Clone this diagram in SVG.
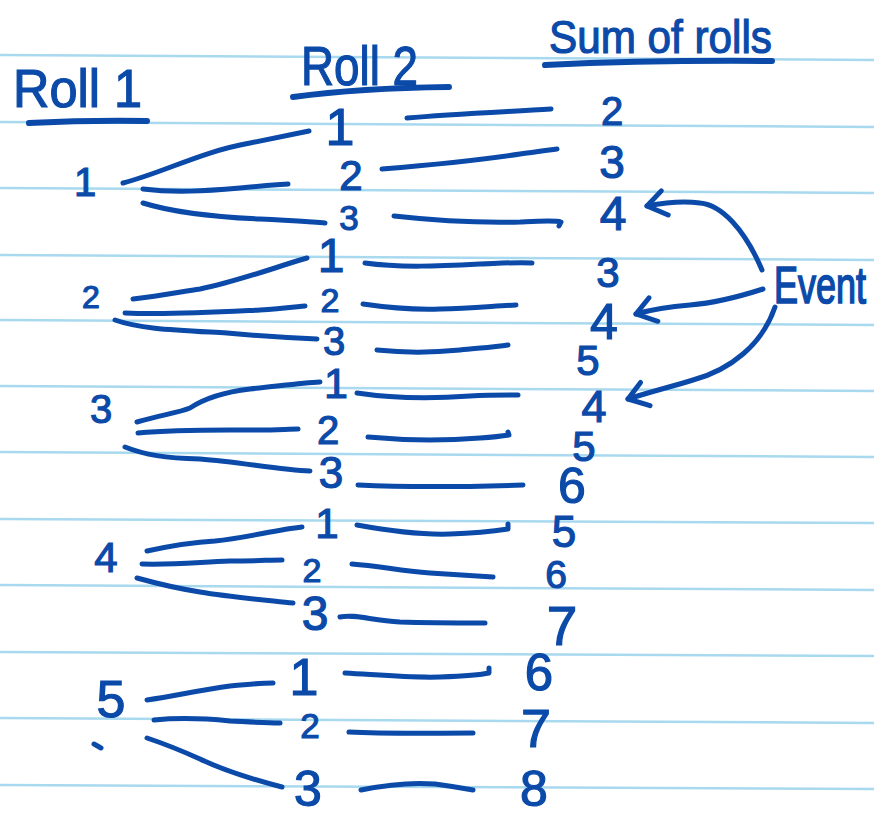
<svg xmlns="http://www.w3.org/2000/svg" width="874" height="817" viewBox="0 0 874 817">
<defs>
<style>
.rule{stroke:#a8d9ee;stroke-width:2.5;fill:none}
.ink{stroke:#0b4aa8;stroke-width:5;fill:none;stroke-linecap:round;stroke-linejoin:round}
.ul{stroke:#0b4aa8;stroke-width:6;fill:none;stroke-linecap:round}
text{font-family:"Liberation Sans",Arial,sans-serif;fill:#0b4aa8;stroke:#0b4aa8;stroke-width:1.2;text-anchor:middle}
.h{text-anchor:start}
</style>
<marker id="v" markerUnits="userSpaceOnUse" markerWidth="40" markerHeight="40" viewBox="-25 -20 40 40" refX="0" refY="0" orient="auto" overflow="visible">
<path d="M-19,-13 L0,0 L-17,12" stroke="#0b4aa8" stroke-width="5" fill="none" stroke-linecap="round" stroke-linejoin="round"/>
</marker>
</defs>
<rect width="874" height="817" fill="#ffffff"/>
<g id="paper">
<line class="rule" x1="0" y1="55" x2="874" y2="60"/>
<line class="rule" x1="0" y1="122" x2="874" y2="127"/>
<line class="rule" x1="0" y1="188" x2="874" y2="193"/>
<line class="rule" x1="0" y1="255" x2="874" y2="260"/>
<line class="rule" x1="0" y1="320" x2="874" y2="325"/>
<line class="rule" x1="0" y1="386" x2="874" y2="391"/>
<line class="rule" x1="0" y1="452" x2="874" y2="457"/>
<line class="rule" x1="0" y1="519" x2="874" y2="523"/>
<line class="rule" x1="0" y1="585" x2="874" y2="590"/>
<line class="rule" x1="0" y1="652" x2="874" y2="656"/>
<line class="rule" x1="0" y1="718" x2="874" y2="723"/>
<line class="rule" x1="0" y1="785" x2="874" y2="789"/>
</g>
<g id="headers">
<g id="h-roll1"><text class="h" x="13" y="107" font-size="54" textLength="129" lengthAdjust="spacingAndGlyphs">Roll 1</text><path class="ul" d="M29,123 Q90,120 147,121"/></g>
<g id="h-roll2"><text class="h" x="301" y="85" font-size="55" textLength="117" lengthAdjust="spacingAndGlyphs">Roll 2</text><path class="ul" d="M293,97 Q360,88 449,87"/></g>
<g id="h-sum"><text class="h" x="549" y="53" font-size="46" textLength="223" lengthAdjust="spacingAndGlyphs">Sum of rolls</text><path class="ul" d="M545,65 Q650,60 772,61"/></g>
</g>
<g id="connectors">
<path class="ink" d="M123,183 C165,172 200,152 250,143 C275,138 295,134 309,131"/>
<path class="ink" d="M143,189 C175,193 205,191 240,188 C260,186 275,185 288,184"/>
<path class="ink" d="M143,203 C175,213 215,217 260,219 C290,220 310,222 325,223"/>
<path class="ink" d="M407,118 C450,114 500,112 551,109"/>
<path class="ink" d="M382,169 C430,165 480,160 520,154 C535,152 548,150 557,149"/>
<path class="ink" d="M394,216 C430,220 480,223 520,222 C540,221 555,220 561,222 L559,226"/>
<path class="ink" d="M133,299 C160,296 180,292 200,289 C225,284 250,276 275,268 C290,263 300,260 307,258"/>
<path class="ink" d="M125,313 C170,315 220,312 260,310 C280,309 295,307 305,306"/>
<path class="ink" d="M115,320 C140,329 175,330 227,333 C260,336 295,338 317,339"/>
<path class="ink" d="M365,263 C400,268 440,266 480,264 C505,263 520,262 532,263"/>
<path class="ink" d="M363,304 C390,308 410,310 440,309 C470,308 495,306 516,305"/>
<path class="ink" d="M377,350 C405,353 430,353 460,350 C480,348 495,347 508,345"/>
<path class="ink" d="M137,422 C160,415 178,413 190,408 C205,398 225,392 250,389 C280,386 300,383 320,382"/>
<path class="ink" d="M138,433 C180,429 220,430 260,430 C275,430 290,429 298,429"/>
<path class="ink" d="M125,447 C145,455 165,458 200,459 C240,462 280,470 310,471"/>
<path class="ink" d="M357,393 C390,398 430,399 470,396 C490,395 505,395 518,395"/>
<path class="ink" d="M368,437 C400,440 440,441 480,438 C495,437 503,436 509,435 L508,432"/>
<path class="ink" d="M358,485 C400,487 460,487 523,485"/>
<path class="ink" d="M147,551 C170,546 195,542 215,541 C245,538 275,530 302,527"/>
<path class="ink" d="M142,564 C175,565 200,562 230,561 C255,561 270,560 282,560"/>
<path class="ink" d="M137,578 C155,583 175,588 200,592 C230,597 265,600 293,603"/>
<path class="ink" d="M357,525 C390,531 420,535 450,534 C480,533 495,531 508,529 L508,524"/>
<path class="ink" d="M352,564 C380,566 400,571 430,573 C460,575 480,576 493,577"/>
<path class="ink" d="M340,617 C355,614 370,620 400,622 C430,623 460,623 485,623"/>
<path class="ink" d="M147,700 C175,696 200,690 230,686 C250,684 262,683 273,683"/>
<path class="ink" d="M154,720 C175,718 200,718 230,721 C250,722 265,723 280,723"/>
<path class="ink" d="M147,738 C165,744 180,750 200,759 C225,771 255,780 282,787"/>
<path class="ink" d="M345,673 C380,675 410,678 440,677 C465,676 480,675 489,673 L489,668"/>
<path class="ink" d="M349,732 C390,734 430,733 473,733"/>
<path class="ink" d="M361,790 C385,785 410,782 435,784 C450,786 462,788 473,790"/>
<path class="ink" d="M762,270 C745,230 722,205 700,203 C680,200 662,203 647,206" marker-end="url(#v)"/>
<path class="ink" d="M763,289 C735,298 715,303 690,305 C665,307 650,310 636,314" marker-end="url(#v)"/>
<path class="ink" d="M775,307 C762,345 730,370 693,380 C670,387 650,392 628,399" marker-end="url(#v)"/>
<path class="ink" d="M94,744 L101,748" stroke-width="3"/>
</g>
<g id="roll1">
<g id="r1-1"><text x="85" y="196" font-size="40">1</text></g>
<g id="r1-2"><text x="91" y="308" font-size="32">2</text></g>
<g id="r1-3"><text x="101" y="423" font-size="40">3</text></g>
<g id="r1-4"><text x="106" y="572" font-size="42">4</text></g>
<g id="r1-5"><text x="111" y="717" font-size="52">5</text></g>
</g>
<g id="roll2">
<g id="r2-1-1"><text x="340" y="145" font-size="52">1</text></g>
<g id="r2-1-2"><text x="351" y="190" font-size="42">2</text></g>
<g id="r2-1-3"><text x="349" y="230" font-size="35">3</text></g>
<g id="r2-2-1"><text x="331" y="272" font-size="48">1</text></g>
<g id="r2-2-2"><text x="330" y="312" font-size="34">2</text></g>
<g id="r2-2-3"><text x="334" y="355" font-size="40">3</text></g>
<g id="r2-3-1"><text x="336" y="398" font-size="43">1</text></g>
<g id="r2-3-2"><text x="328" y="444" font-size="40">2</text></g>
<g id="r2-3-3"><text x="331" y="488" font-size="44">3</text></g>
<g id="r2-4-1"><text x="327" y="538" font-size="42">1</text></g>
<g id="r2-4-2"><text x="312" y="582" font-size="34">2</text></g>
<g id="r2-4-3"><text x="315" y="630" font-size="48">3</text></g>
<g id="r2-5-1"><text x="304" y="695" font-size="52">1</text></g>
<g id="r2-5-2"><text x="310" y="738" font-size="35">2</text></g>
<g id="r2-5-3"><text x="308" y="806" font-size="50">3</text></g>
</g>
<g id="sums">
<g id="s-1-1"><text x="612" y="125" font-size="40">2</text></g>
<g id="s-1-2"><text x="612" y="178" font-size="46">3</text></g>
<g id="s-1-3"><text x="613" y="230" font-size="48">4</text></g>
<g id="s-2-1"><text x="608" y="287" font-size="42">3</text></g>
<g id="s-2-2"><text x="604" y="339" font-size="50">4</text></g>
<g id="s-2-3"><text x="588" y="375" font-size="42">5</text></g>
<g id="s-3-1"><text x="594" y="422" font-size="45">4</text></g>
<g id="s-3-2"><text x="584" y="461" font-size="42">5</text></g>
<g id="s-3-3"><text x="572" y="503" font-size="50">6</text></g>
<g id="s-4-1"><text x="564" y="547" font-size="44">5</text></g>
<g id="s-4-2"><text x="556" y="588" font-size="39">6</text></g>
<g id="s-4-3"><text x="562" y="645" font-size="55">7</text></g>
<g id="s-5-1"><text x="539" y="690" font-size="51">6</text></g>
<g id="s-5-2"><text x="536" y="747" font-size="54">7</text></g>
<g id="s-5-3"><text x="534" y="806" font-size="50">8</text></g>
</g>
<g id="event"><text class="h" transform="translate(774,303) scale(1,1.44)" x="0" y="0" font-size="36">Event</text></g>
</svg>
